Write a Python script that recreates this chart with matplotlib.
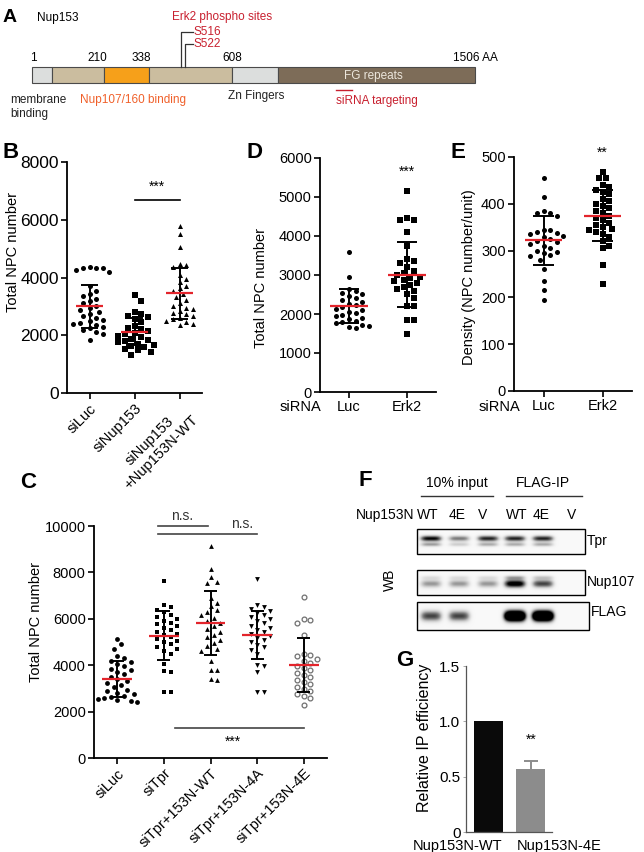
import numpy as np
import matplotlib
matplotlib.use('Agg')
import matplotlib.pyplot as plt
from matplotlib.patches import Rectangle

plt.rcParams['font.family'] = ['Liberation Sans', 'DejaVu Sans']

W, H = 644, 852
RED = '#e3242b'
TXT_RED = '#c8202f'

# ---------------- data ----------------
# A: Nup153 domain schematic (schematic x positions, not to scale)
domain_edges = [32, 52, 104, 149, 232, 278, 475]
domain_colors = ['#dcdedd', '#cbbd9f', '#f6a01a', '#cbbd9f', '#dcdedd', '#7d6c58']
aa_labels = ['1', '210', '338', '608', '1506 AA']
phospho_sites = ['S516', 'S522']
phospho_x = [181, 185]

# B
B_groups = ['siLuc', 'siNup153', 'siNup153\n+Nup153N-WT']
B_luc = [4350, 4320, 4250, 4200, 4330, 4340, 3700, 3520, 3430, 3350, 3270, 3180, 3100, 3020, 2950,
         2880, 2800, 2720, 2650, 2590, 2540, 2490, 2440, 2400, 2350, 2300, 2250, 2190, 2120, 2050, 1850]
B_kd = [3380, 3200, 2800, 2750, 2680, 2620, 2560, 2450, 2330, 2260, 2200, 2140, 2090, 2040,
        1990, 1930, 1880, 1830, 1790, 1750, 1710, 1670, 1630, 1580, 1530, 1480, 1430, 1310]
B_res = [5790, 5500, 5060, 4480, 4430, 4350, 4100, 3950, 3850, 3720, 3620, 3520, 3420, 3320, 3220,
         3120, 3030, 2960, 2900, 2840, 2780, 2720, 2660, 2600, 2550, 2500, 2450, 2400, 2350]
B_mean = [3000, 2120, 3450]
B_sd = [750, 470, 875]

# C
C_groups = ['siLuc', 'siTpr', 'siTpr+153N-WT', 'siTpr+153N-4A', 'siTpr+153N-4E']
C_luc = [5150, 4900, 4700, 4400, 4300, 4200, 4120, 4050, 3950, 3850, 3780, 3700, 3600, 3500, 3400, 3320,
         3250, 3150, 3050, 2950, 2880, 2800, 2740, 2680, 2620, 2570, 2530, 2490, 2450, 2410]
C_tpr = [7650, 6600, 6500, 6400, 6280, 6180, 6080, 6000, 5920, 5840, 5760, 5680, 5600, 5520, 5440, 5360,
         5290, 5220, 5150, 5060, 4980, 4900, 4800, 4700, 4600, 4500, 4050, 3750, 3700, 2850, 2850]
C_wt = [9150, 8150, 7800, 7600, 7550, 6900, 6700, 6550, 6400, 6280, 6160, 6040, 5920, 5800, 5680, 5560,
        5440, 5320, 5200, 5080, 4960, 4840, 4700, 4600, 4200, 3800, 3800, 3400, 3350]
C_4a = [7700, 6600, 6500, 6420, 6340, 6250, 6160, 6070, 5980, 5890, 5800, 5710, 5620, 5530, 5440, 5350,
        5260, 5170, 5080, 4990, 4880, 4770, 4650, 4500, 4000, 3950, 3700, 2850, 2850]
C_4e = [6950, 6000, 5950, 5800, 5300, 4500, 4440, 4380, 4280, 4180, 4080, 3980, 3880, 3780, 3680, 3580,
        3480, 3380, 3280, 3180, 3080, 2980, 2880, 2780, 2680, 2580, 2300]
C_mean = [3390, 5280, 5800, 5300, 4020]
C_sd = [780, 1060, 1380, 1040, 1170]

# D
D_groups = ['Luc', 'Erk2']
D_luc = [3600, 2950, 2650, 2600, 2550, 2500, 2450, 2400, 2350, 2300, 2260, 2220, 2180, 2140, 2100,
         2060, 2020, 1980, 1940, 1900, 1860, 1820, 1790, 1760, 1730, 1700, 1670, 1650]
D_erk = [5150, 4450, 4400, 4400, 4100, 3750, 3400, 3350, 3300, 3200, 3100, 3050, 3000, 2960, 2920,
         2880, 2840, 2800, 2750, 2700, 2650, 2600, 2500, 2400, 2200, 2200, 1850, 1850, 1500]
D_mean = [2200, 3010]
D_sd = [430, 830]

# E
E_groups = ['Luc', 'Erk2']
E_luc = [455, 415, 385, 380, 380, 375, 345, 343, 340, 338, 335, 332, 328, 325, 320, 318, 315, 310, 305,
         300, 296, 294, 290, 288, 280, 260, 235, 215, 195]
E_erk = [468, 455, 455, 440, 435, 430, 425, 420, 410, 405, 400, 395, 390, 385, 380, 375, 370, 365, 360,
         355, 350, 346, 344, 340, 335, 330, 320, 310, 305, 270, 228]
E_mean = [322, 375]
E_sd = [52, 54]

# F: western blot band intensities (lanes: input WT 4E V, IP WT 4E V)
F_lanes = ['WT', '4E', 'V', 'WT', '4E', 'V']
lane_x = [431, 459, 488, 515, 543, 572]
tpr_int = [0.95, 0.55, 0.85, 0.85, 0.85, 0.0]
nup107_int = [0.45, 0.45, 0.45, 1.1, 0.75, 0.0]
flag_int = [0.75, 0.75, 0.0, 2.2, 2.2, 0.0]

# G
G_groups = ['Nup153N-WT', 'Nup153N-4E']
G_vals = [1.0, 0.57]
G_err = [0.0, 0.07]
G_colors = ['#0a0a0a', '#8c8c8c']

fig = plt.figure(figsize=(W / 100, H / 100), dpi=100)


def px_axes(x0, y0, x1, y1):
    return fig.add_axes([x0 / W, 1 - y1 / H, (x1 - x0) / W, (y1 - y0) / H])


def style(ax, fs):
    for sp in ['top', 'right']:
        ax.spines[sp].set_visible(False)
    for sp in ['left', 'bottom']:
        ax.spines[sp].set_linewidth(1.3)
    ax.tick_params(direction='out', length=4, width=1.2, labelsize=fs, pad=2)


def swarm_offsets(vals, xpx, ypx, d=6.6):
    vals = np.asarray(vals, float)
    order = np.argsort(-vals, kind='stable')
    cands = [0.0]
    for k in range(1, 40):
        cands += [k * d * 0.5, -k * d * 0.5]
    placed = []
    off = np.zeros(len(vals))
    for i in order:
        y = vals[i] * ypx
        for c in cands:
            if all((c - px) ** 2 + (y - py) ** 2 >= d * d for px, py in placed):
                break
        placed.append((c, y))
        off[i] = c / xpx
    return off


def dot_plot(ax, groups_vals, means, sds, markers, fcs, ecs, cap, half, s=13):
    x0, x1 = ax.get_xlim()
    y0, y1 = ax.get_ylim()
    pos = ax.get_position()
    xpx = pos.width * W / (x1 - x0)
    ypx = pos.height * H / (y1 - y0)
    for i, vals in enumerate(groups_vals):
        x = i + 1
        off = swarm_offsets(vals, xpx, ypx)
        lw = 0.9 if fcs[i] == 'white' else 0
        ax.scatter(x + off, vals, s=s, marker=markers[i], facecolors=fcs[i],
                   edgecolors=ecs[i], linewidths=lw, zorder=2, clip_on=False)
        lo, hi = means[i] - sds[i], means[i] + sds[i]
        ax.vlines(x, lo, hi, color='k', lw=1.4, zorder=3)
        ax.hlines([lo, hi], x - cap, x + cap, color='k', lw=1.4, zorder=3)
        ax.hlines(means[i], x - half, x + half, color=RED, lw=1.6, zorder=4)


# overlay for schematic, blots and free text
ov = fig.add_axes([0, 0, 1, 1])
ov.set_xlim(0, W)
ov.set_ylim(H, 0)
ov.axis('off')

# ---------------- A ----------------
for x0, x1, c in zip(domain_edges[:-1], domain_edges[1:], domain_colors):
    ov.add_patch(Rectangle((x0, 67), x1 - x0, 16, facecolor=c, edgecolor='#4a4a4a', lw=0.8))
ov.text(10, 17, 'A', fontsize=14, fontweight='bold', ha='center', va='center')
ov.text(37, 18, 'Nup153', fontsize=8.5, va='center')
ov.text(222, 17, 'Erk2 phospho sites', fontsize=8.5, color=TXT_RED, ha='center', va='center')
for name, px, ly in zip(phospho_sites, phospho_x, [32, 44]):
    ov.plot([px, px, 193], [67, ly, ly], color='#333333', lw=0.9)
    ov.text(194, ly, name, fontsize=8.5, color=TXT_RED, va='center')
aa_pos = [(33, 'center'), (107, 'right'), (151, 'right'), (232, 'center'), (475, 'center')]
for lab, (px, ha) in zip(aa_labels, aa_pos):
    ov.text(px, 58, lab, fontsize=8.5, ha=ha, va='center')
ov.text(373, 75.5, 'FG repeats', fontsize=8.5, color='#ece6dc', ha='center', va='center')
ov.text(10, 100, 'membrane', fontsize=8.5, va='center', color='#222222')
ov.text(10, 114, 'binding', fontsize=8.5, va='center', color='#222222')
ov.text(80, 100, 'Nup107/160 binding', fontsize=8.5, va='center', color='#f0602a')
ov.text(228, 96, 'Zn Fingers', fontsize=8.5, va='center', color='#222222')
ov.plot([336, 352], [90, 90], color=TXT_RED, lw=1.0)
ov.text(336, 101, 'siRNA targeting', fontsize=8.5, va='center', color=TXT_RED)

# ---------------- B ----------------
axB = px_axes(67, 162, 202, 393)
axB.set_xlim(0.5, 3.5)
axB.set_ylim(0, 8000)
style(axB, 12.5)
axB.set_yticks([0, 2000, 4000, 6000, 8000])
axB.set_xticks([1, 2, 3])
axB.set_xticklabels(B_groups, rotation=45, ha='right', rotation_mode='anchor',
                    fontsize=10.5, multialignment='center')
dot_plot(axB, [B_luc, B_kd, B_res], B_mean, B_sd, ['o', 's', '^'], ['k'] * 3, ['k'] * 3, 0.19, 0.31)
axB.plot([2, 3], [6700, 6700], color='k', lw=1.2, clip_on=False)
axB.text(2.5, 7150, '***', ha='center', va='center', fontsize=10)
axB.set_ylabel('Total NPC number', fontsize=10.5)
axB.yaxis.set_label_coords(-0.348, 0.61)
ov.text(11, 152, 'B', fontsize=16, fontweight='bold', ha='center', va='center')

# ---------------- C ----------------
axC = px_axes(94, 526, 327, 758)
axC.set_xlim(0.5, 5.5)
axC.set_ylim(0, 10000)
style(axC, 10.5)
axC.set_yticks([0, 2000, 4000, 6000, 8000, 10000])
axC.set_xticks([1, 2, 3, 4, 5])
axC.set_xticklabels(C_groups, rotation=45, ha='right', rotation_mode='anchor', fontsize=10.5)
dot_plot(axC, [C_luc, C_tpr, C_wt, C_4a, C_4e], C_mean, C_sd,
         ['o', 's', '^', 'v', 'o'], ['k', 'k', 'k', 'k', 'white'],
         ['k', 'k', 'k', 'k', '#707070'], 0.14, 0.32, s=12)
axC.plot([1.87, 2.95], [10010, 10010], color='#444444', lw=1.2, clip_on=False)
axC.plot([1.87, 4.0], [9655, 9655], color='#444444', lw=1.2, clip_on=False)
axC.text(2.4, 10430, 'n.s.', ha='center', va='center', fontsize=10, color='#333333')
axC.text(3.67, 10090, 'n.s.', ha='center', va='center', fontsize=10, color='#333333')
axC.plot([2.23, 5.0], [1293, 1293], color='#444444', lw=1.2)
axC.text(3.48, 700, '***', ha='center', va='center', fontsize=10)
axC.set_ylabel('Total NPC number', fontsize=10.5)
axC.yaxis.set_label_coords(-0.219, 0.586)
ov.text(28, 483, 'C', fontsize=16, fontweight='bold', ha='center', va='center')

# ---------------- D ----------------
axD = px_axes(320, 158, 436, 392)
axD.set_xlim(0.5, 2.5)
axD.set_ylim(0, 6000)
style(axD, 10.5)
axD.set_yticks(range(0, 7000, 1000))
axD.set_xticks([1, 2])
axD.set_xticklabels(D_groups, fontsize=10.5)
dot_plot(axD, [D_luc, D_erk], D_mean, D_sd, ['o', 's'], ['k', 'k'], ['k', 'k'], 0.17, 0.33)
axD.text(2, 5650, '***', ha='center', va='center', fontsize=10)
axD.set_ylabel('Total NPC number', fontsize=10.5)
axD.yaxis.set_label_coords(-0.448, 0.444)
ov.text(300, 407, 'siRNA', fontsize=10.5, ha='center', va='center')
ov.text(255, 152, 'D', fontsize=16, fontweight='bold', ha='center', va='center')

# ---------------- E ----------------
axE = px_axes(514, 157, 632, 391)
axE.set_xlim(0.5, 2.5)
axE.set_ylim(0, 500)
style(axE, 10.5)
axE.set_yticks(range(0, 600, 100))
axE.set_xticks([1, 2])
axE.set_xticklabels(E_groups, fontsize=10.5)
dot_plot(axE, [E_luc, E_erk], E_mean, E_sd, ['o', 's'], ['k', 'k'], ['k', 'k'], 0.17, 0.31)
axE.text(2, 508, '**', ha='center', va='center', fontsize=10, clip_on=False)
axE.set_ylabel('Density (NPC number/unit)', fontsize=10.5)
axE.yaxis.set_label_coords(-0.322, 0.487)
ov.text(499, 407, 'siRNA', fontsize=10.5, ha='center', va='center')
ov.text(458, 152, 'E', fontsize=16, fontweight='bold', ha='center', va='center')

# ---------------- F ----------------
ov.text(365, 481, 'F', fontsize=16, fontweight='bold', ha='center', va='center')
ov.text(457, 483, '10% input', fontsize=10, ha='center', va='center')
ov.text(543, 483, 'FLAG-IP', fontsize=10, ha='center', va='center')
ov.plot([421, 493], [496, 496], color='#333333', lw=1.0)
ov.plot([506, 582], [496, 496], color='#333333', lw=1.0)
ov.text(356, 515, 'Nup153N', fontsize=10, va='center')
for lab, lx in zip(F_lanes, [428, 457, 483, 517, 541, 572]):
    ov.text(lx, 515, lab, fontsize=10, ha='center', va='center')
ov.text(390, 580, 'WB', fontsize=10, rotation=90, ha='center', va='center')


def blot(x0, y0, x1, y1, intens, rows, label, ly):
    nx, ny = int((x1 - x0) * 3), int((y1 - y0) * 3)
    xs = np.linspace(x0, x1, nx)
    ys = np.linspace(0, 1, ny)
    img = np.full((ny, nx), 0.05)
    for cx, a in zip(lane_x, intens):
        gx = np.exp(-((xs - cx) / 10.5) ** 4)
        for cy, sig, wgt in rows:
            gy = np.exp(-0.5 * ((ys - cy) / sig) ** 2)
            img += a * wgt * np.outer(gy, gx)
    ov.imshow(img, cmap='Greys', vmin=0, vmax=1, extent=(x0, x1, y1, y0),
              aspect='auto', interpolation='bilinear', zorder=1)
    ov.add_patch(Rectangle((x0, y0), x1 - x0, y1 - y0, fill=False, edgecolor='k', lw=1.0, zorder=2))
    ov.text(x1 + 2, ly, label, fontsize=10, va='center')


blot(417, 529, 585, 554, tpr_int, [(0.38, 0.08, 1.0), (0.62, 0.06, 0.45)], 'Tpr', 541)
blot(417, 570, 585, 595, nup107_int, [(0.55, 0.11, 1.0), (0.3, 0.06, 0.35)], 'Nup107', 582)
blot(417, 602, 589, 630, flag_int, [(0.5, 0.13, 1.0)], 'FLAG', 612)

# ---------------- G ----------------
axG = px_axes(466, 666, 552, 832)
axG.set_xlim(0.47, 2.5)
axG.set_ylim(0, 1.5)
for sp in ['top', 'right']:
    axG.spines[sp].set_visible(False)
for sp in ['left', 'bottom']:
    axG.spines[sp].set_linewidth(0.9)
    axG.spines[sp].set_color('#555555')
axG.tick_params(axis='y', direction='out', length=2, width=0.6, color='#999999', labelsize=11, pad=2)
axG.set_yticks([0, 0.5, 1.0, 1.5])
axG.set_yticklabels(['0', '0.5', '1.0', '1.5'])
axG.set_xticks([])
xg = np.arange(1, len(G_vals) + 1)
axG.bar(xg, G_vals, width=0.68, color=G_colors, zorder=2)
for x, v, e in zip(xg, G_vals, G_err):
    if e > 0:
        axG.vlines(x, v, v + e, color=G_colors[1], lw=1.4)
        axG.hlines(v + e, x - 0.17, x + 0.17, color=G_colors[1], lw=1.4)
axG.text(2, 0.83, '**', ha='center', va='center', fontsize=10)
for x, lab, ha, dx in zip(xg, G_groups, ['right', 'left'], [0.34, -0.34]):
    axG.annotate(lab, xy=(x + dx, 0), xycoords=('data', 'axes fraction'), xytext=(0, -14),
                 textcoords='offset pixels', ha=ha, va='center', fontsize=10.5, annotation_clip=False)
axG.set_ylabel('Relative IP efficiency', fontsize=11.5)
axG.yaxis.set_label_coords(-0.395, 0.57)
ov.text(405, 661, 'G', fontsize=16, fontweight='bold', ha='center', va='center')

fig.savefig('out.png', dpi=100)
